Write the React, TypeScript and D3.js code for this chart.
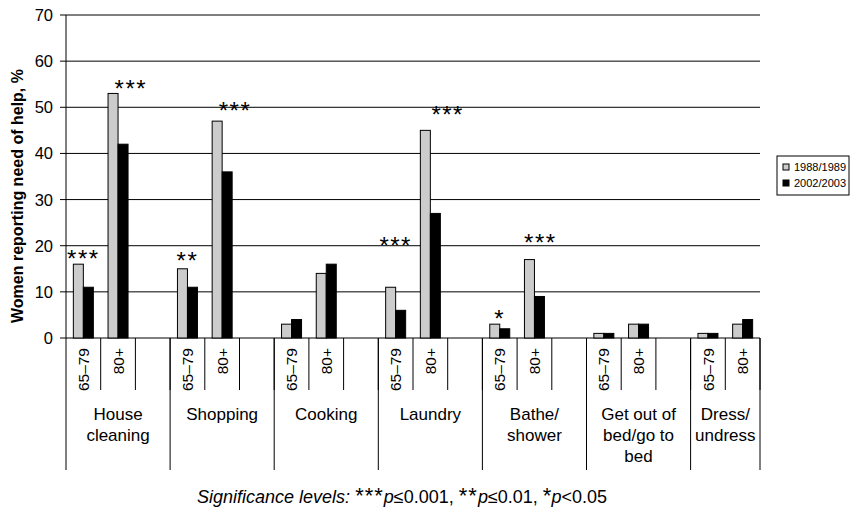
import React from "react";
import * as d3 from "d3";

// activities (group labels, \n = line break)
const activities = [
  "House\ncleaning",
  "Shopping",
  "Cooking",
  "Laundry",
  "Bathe/\nshower",
  "Get out of\nbed/go to\nbed",
  "Dress/\nundress"
];
const ageGroups = ["65–79", "80+"];
const series = ["1988/1989", "2002/2003"];
const seriesColors = ["#cccccc", "#000000"];

// one value per activity x age group, in order
const values1988 = [16, 53, 15, 47, 3, 14, 11, 45, 3, 17, 1, 3, 1, 3];
const values2002 = [11, 42, 11, 36, 4, 16, 6, 27, 2, 9, 1, 3, 1, 4];

// significance marks per activity x age group
const sigLabels = ["***", "***", "**", "***", "", "", "***", "***", "*", "***", "", "", "", ""];
const sigLevels = [18.4, 55.3, 18, 50.5, 0, 0, 21.2, 49.6, 5.4, 21.9, 0, 0, 0, 0];
const sigShift = [0, 0.37, 0, 0.37, 0, 0, 0, 0.5, 0, 0.17, 0, 0, 0, 0];

const yTicks = [0, 10, 20, 30, 40, 50, 60, 70];

const W = 858;
const H = 510;
const margin = { left: 66, right: 98, top: 15, bottom: 172 };
const font = "'Liberation Sans', Arial, sans-serif";

export default function App() {
  const x0 = margin.left;
  const x1 = W - margin.right;
  const y0 = H - margin.bottom;

  // slots: 65–79, 80+, gap per activity (no gap after the last one)
  const slots: { key: string; act: number; age: number }[] = [];
  activities.forEach((_, i) => {
    ageGroups.forEach((_, j) => slots.push({ key: `${i}-${j}`, act: i, age: j }));
    if (i < activities.length - 1) slots.push({ key: `${i}-gap`, act: i, age: -1 });
  });

  const x = d3.scaleBand().domain(slots.map(s => s.key)).range([x0, x1]);
  const xInner = d3
    .scaleBand()
    .domain(series)
    .range([0, x.bandwidth()])
    .paddingInner(0)
    .paddingOuter(0.735);
  const y = d3.scaleLinear().domain([0, 70]).range([y0, margin.top]);

  const bars = slots
    .filter(s => s.age >= 0)
    .map(s => {
      const idx = s.act * ageGroups.length + s.age;
      return { s, idx, vals: [values1988[idx], values2002[idx]] };
    });

  const groupStarts = activities.map((_, i) => x(`${i}-0`) as number);
  const groupEdges = [...groupStarts, x1];
  const slotEdges = slots.map(s => (x(s.key) as number) + x.bandwidth());

  return (
    <svg
      width={W}
      height={H}
      style={{ position: "absolute", left: 0, top: 0, background: "#fff" }}
      fontFamily={font}
    >
      {/* gridlines + y ticks */}
      {yTicks.map(t => (
        <g key={t}>
          <line x1={x0 - 6} x2={x1} y1={y(t)} y2={y(t)} stroke="#000" strokeWidth={1} />
          <text x={x0 - 13} y={y(t)} dy="0.36em" textAnchor="end" fontSize={16.5}>
            {t}
          </text>
        </g>
      ))}
      <line x1={x0} x2={x0} y1={margin.top} y2={y0} stroke="#000" />

      {/* bars */}
      {bars.map(b =>
        b.vals.map((v, k) => (
          <rect
            key={`${b.s.key}-${k}`}
            x={(x(b.s.key) as number) + (xInner(series[k]) as number)}
            y={y(v)}
            width={xInner.bandwidth()}
            height={y0 - y(v)}
            fill={seriesColors[k]}
            stroke="#000"
            strokeWidth={1}
          />
        ))
      )}

      {/* significance stars */}
      {bars.map(b =>
        sigLabels[b.idx] ? (
          <text
            key={`sig-${b.s.key}`}
            x={(x(b.s.key) as number) + x.bandwidth() * (0.5 + sigShift[b.idx])}
            y={y(sigLevels[b.idx]) + 14}
            textAnchor="middle"
            fontSize={24}
            letterSpacing={1.5}
          >
            {sigLabels[b.idx]}
          </text>
        ) : null
      )}

      {/* category separators */}
      {slotEdges.map((e, i) => (
        <line key={`se${i}`} x1={e} x2={e} y1={y0} y2={y0 + 52} stroke="#000" />
      ))}
      {groupEdges.map((e, i) => (
        <line key={`ge${i}`} x1={e} x2={e} y1={y0} y2={y0 + 132} stroke="#000" />
      ))}

      {/* age labels */}
      {bars.map(b => {
        const cx = (x(b.s.key) as number) + x.bandwidth() / 2;
        return (
          <text
            key={`age-${b.s.key}`}
            transform={`translate(${cx},${y0 + 10}) rotate(-90)`}
            textAnchor="end"
            dy="0.36em"
            fontSize={15.5}
          >
            {ageGroups[b.s.age]}
          </text>
        );
      })}

      {/* activity labels */}
      {activities.map((a, i) => {
        const cx = (groupEdges[i] + groupEdges[i + 1]) / 2;
        return (
          <text key={`act${i}`} x={cx} y={y0 + 82} textAnchor="middle" fontSize={17}>
            {a.split("\n").map((line, k) => (
              <tspan key={k} x={cx} dy={k === 0 ? 0 : 21}>
                {line}
              </tspan>
            ))}
          </text>
        );
      })}

      {/* y title */}
      <text
        transform={`translate(23,196) rotate(-90)`}
        textAnchor="middle"
        fontSize={16}
        fontWeight="bold"
      >
        Women reporting need of help, %
      </text>

      {/* legend */}
      <g transform="translate(777,156)">
        <rect x={0} y={0} width={72} height={39} fill="#fff" stroke="#000" />
        {series.map((s, i) => (
          <g key={s} transform={`translate(6,${8 + i * 16})`}>
            <rect x={0} y={0} width={6} height={6} fill={seriesColors[i]} stroke="#000" />
            <text x={11} y={6.5} fontSize={11}>
              {s}
            </text>
          </g>
        ))}
      </g>

      {/* footnote */}
      <text x={402} y={503} textAnchor="middle" fontSize={18}>
        <tspan fontStyle="italic">Significance levels: </tspan>
        <tspan fontSize={22} letterSpacing={1}>***</tspan>
        <tspan fontStyle="italic">p</tspan>
        <tspan>≤0.001, </tspan>
        <tspan fontSize={22} letterSpacing={1}>**</tspan>
        <tspan fontStyle="italic">p</tspan>
        <tspan>≤0.01, </tspan>
        <tspan fontSize={22}>*</tspan>
        <tspan fontStyle="italic">p</tspan>
        <tspan>&lt;0.05</tspan>
      </text>
    </svg>
  );
}
